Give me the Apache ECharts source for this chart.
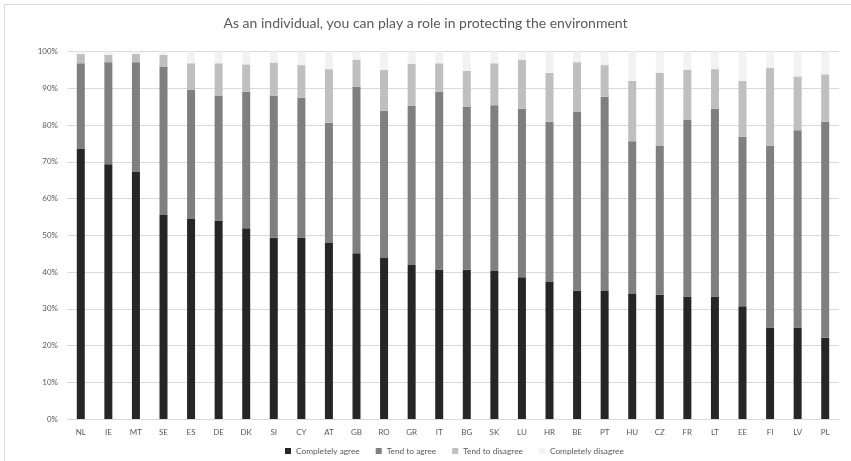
<!DOCTYPE html>
<html>
<head>
<meta charset="utf-8">
<script src="https://cdn.jsdelivr.net/npm/echarts@6/dist/echarts.min.js"></script>
<style>
  html, body { margin: 0; padding: 0; background: #ffffff; }
  #chart { width: 851px; height: 461px; }
</style>
</head>
<body>
<div id="chart"></div>
<script>
// Country codes along the x axis
const countries = ['NL','IE','MT','SE','ES','DE','DK','SI','CY','AT','GB','RO','GR','IT','BG','SK','LU','HR','BE','PT','HU','CZ','FR','LT','EE','FI','LV','PL'];

// Share of answers per country (%)
const completelyAgree = [73.6,69.3,67.2,55.5,54.4,54.0,51.9,49.3,49.4,47.9,45.1,43.8,41.9,40.7,40.6,40.3,38.6,37.3,35.0,34.8,34.0,33.8,33.3,33.3,30.7,24.9,24.9,22.1];
const tendToAgree = [23.2,27.8,29.9,40.4,35.1,34.0,37.1,38.7,38.0,32.7,45.3,40.1,43.3,48.3,44.3,45.1,45.8,43.6,48.7,52.9,41.6,40.5,48.1,51.1,46.1,49.4,53.7,58.8];
const tendToDisagree = [2.5,2.0,2.2,3.2,7.3,8.8,7.5,9.0,8.9,14.6,7.4,11.1,11.5,7.8,9.8,11.4,13.4,13.3,13.4,8.6,16.4,19.9,13.6,10.8,15.2,21.2,14.6,12.9];
const completelyDisagree = [0.7,0.9,0.7,0.9,3.2,3.2,3.5,3.0,3.7,4.8,2.2,5.0,3.3,3.2,5.3,3.2,2.2,5.8,2.9,3.7,8.0,5.8,5.0,4.8,8.0,4.5,6.8,6.2];

// Y axis ticks (%)
const yTicks = [0,10,20,30,40,50,60,70,80,90,100];

const seriesNames = ['Completely agree','Tend to agree','Tend to disagree','Completely disagree'];
const seriesColors = ['#262626','#7f7f7f','#bfbfbf','#f2f2f2'];
const seriesData = [completelyAgree, tendToAgree, tendToDisagree, completelyDisagree];

const textColor = '#595959';
const font = 'Lato';

const chart = echarts.init(document.getElementById('chart'), null, { renderer: 'canvas' });

chart.setOption({
  animation: false,
  backgroundColor: '#ffffff',
  title: {
    text: 'As an individual, you can play a role in protecting the environment',
    left: 'center',
    top: 11,
    textStyle: { color: textColor, fontFamily: font, fontSize: 14, fontWeight: 'normal' }
  },
  // light chart-area frame
  graphic: [{
    type: 'rect',
    shape: { x: 4.5, y: 4.5, width: 900, height: 600 },
    style: { fill: 'none', stroke: '#d9d9d9', lineWidth: 1 },
    silent: true
  }],
  legend: {
    data: seriesNames,
    top: 442,
    left: 280,
    icon: 'rect',
    itemWidth: 6,
    itemHeight: 6,
    itemGap: 16,
    textStyle: { color: textColor, fontFamily: font, fontSize: 8.3 }
  },
  grid: { left: 67, right: 12, top: 51.5, bottom: 42, containLabel: false },
  xAxis: {
    type: 'category',
    data: countries,
    axisLine: { lineStyle: { color: '#d9d9d9' } },
    axisTick: { show: false },
    axisLabel: { color: textColor, fontFamily: font, fontSize: 8, margin: 9 }
  },
  yAxis: {
    type: 'value',
    min: yTicks[0],
    max: yTicks[yTicks.length - 1],
    interval: yTicks[1] - yTicks[0],
    axisLine: { show: false },
    axisTick: { show: false },
    splitLine: { lineStyle: { color: '#d9d9d9' } },
    axisLabel: { color: textColor, fontFamily: font, fontSize: 8, margin: 9, formatter: v => v + '%' }
  },
  series: seriesNames.map((name, i) => ({
    name: name,
    type: 'bar',
    stack: 'total',
    barWidth: 8,
    data: seriesData[i],
    itemStyle: { color: seriesColors[i] }
  }))
});
</script>
</body>
</html>
